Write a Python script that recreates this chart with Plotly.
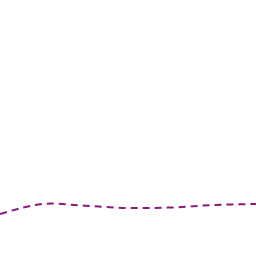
import plotly.graph_objects as go

x_vals = [0, 1, 2, 3, 4, 5, 6]
y_vals = [42, 52, 50.3, 48, 48.5, 51, 52]

fig = go.Figure(go.Scatter(
    x=x_vals, y=y_vals, mode="lines",
    line=dict(color="#8c1a7c", width=2, dash="7px,5px", shape="spline"),
))
fig.update_layout(
    width=256, height=256, margin=dict(l=0, r=0, t=0, b=0),
    paper_bgcolor="white", plot_bgcolor="white", showlegend=False,
    xaxis=dict(visible=False, range=[0, 6]),
    yaxis=dict(visible=False, range=[0, 256]),
)
fig.write_html("out.html")
